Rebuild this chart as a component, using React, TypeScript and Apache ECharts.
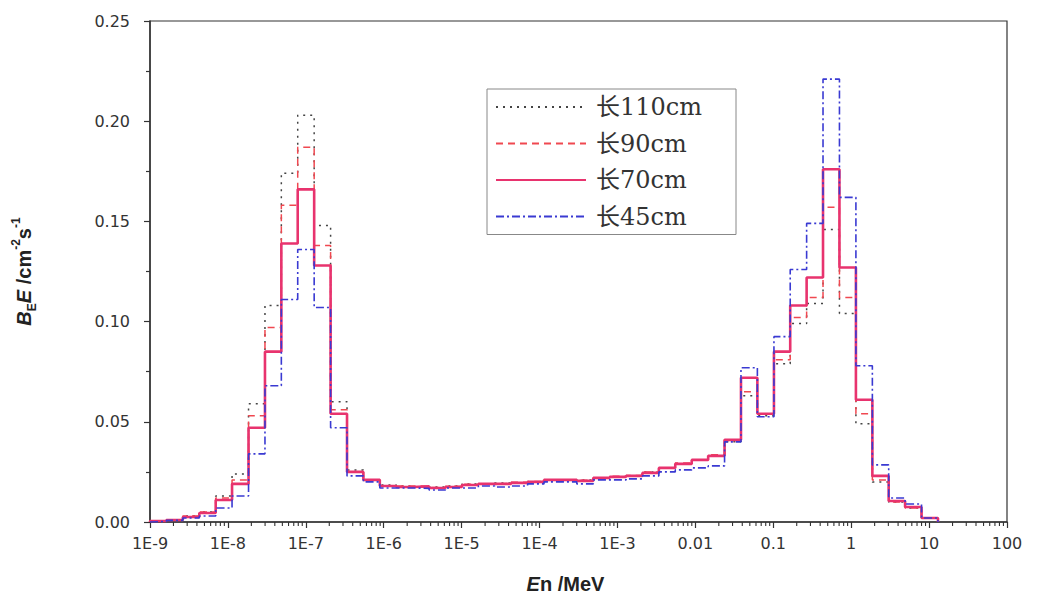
import React, { useEffect, useRef } from "react";
import * as echarts from "echarts";

// Bin edges (MeV), equal logarithmic bins
const binEdges = [
  1.0e-9, 1.62e-9, 2.64e-9, 4.29e-9, 6.97e-9, 1.13e-8, 1.84e-8, 2.99e-8, 4.85e-8, 7.87e-8,
  1.28e-7, 2.08e-7, 3.38e-7, 5.48e-7, 8.91e-7, 1.45e-6, 2.35e-6, 3.82e-6, 6.2e-6, 1.01e-5,
  1.64e-5, 2.66e-5, 4.32e-5, 7.02e-5, 1.14e-4, 1.85e-4, 3.01e-4, 4.89e-4, 7.94e-4, 1.29e-3,
  2.09e-3, 3.4e-3, 5.52e-3, 8.98e-3, 1.46e-2, 2.37e-2, 3.85e-2, 6.25e-2, 0.102, 0.165,
  0.268, 0.435, 0.707, 1.15, 1.87, 3.03, 4.92, 8.0, 13.0,
];

const len110 = [
  0.0005, 0.001, 0.003, 0.005, 0.013, 0.024, 0.059, 0.108, 0.174, 0.203,
  0.148, 0.06, 0.026, 0.021, 0.0185, 0.018, 0.0175, 0.0175, 0.018, 0.019,
  0.019, 0.0195, 0.0195, 0.02, 0.021, 0.021, 0.021, 0.022, 0.0225, 0.023,
  0.025, 0.027, 0.029, 0.031, 0.033, 0.04, 0.063, 0.053, 0.079, 0.099,
  0.109, 0.146, 0.104, 0.049, 0.02, 0.01, 0.007, 0.002,
];
const len90 = [
  0.0005, 0.001, 0.003, 0.005, 0.012, 0.021, 0.053, 0.097, 0.158, 0.187,
  0.138, 0.056, 0.025, 0.021, 0.018, 0.018, 0.0178, 0.0172, 0.0178, 0.0188,
  0.019, 0.0192, 0.0198, 0.0202, 0.021, 0.0208, 0.0208, 0.022, 0.0228, 0.0232,
  0.025, 0.027, 0.0295, 0.031, 0.0335, 0.041, 0.065, 0.054, 0.081, 0.102,
  0.112, 0.157, 0.112, 0.054, 0.021, 0.01, 0.007, 0.002,
];
const len70 = [
  0.0005, 0.001, 0.0025, 0.0045, 0.011, 0.019, 0.047, 0.085, 0.139, 0.166,
  0.128, 0.054, 0.025, 0.021, 0.018, 0.0175, 0.0178, 0.017, 0.0175, 0.0185,
  0.019, 0.019, 0.0195, 0.02, 0.021, 0.021, 0.0205, 0.022, 0.0225, 0.023,
  0.0245, 0.027, 0.029, 0.031, 0.033, 0.041, 0.072, 0.054, 0.085, 0.108,
  0.122, 0.176, 0.127, 0.061, 0.023, 0.0105, 0.0075, 0.002,
];
const len45 = [
  0.0003, 0.0008, 0.002, 0.003, 0.007, 0.013, 0.034, 0.068, 0.111, 0.136,
  0.107, 0.047, 0.023, 0.02, 0.017, 0.017, 0.0168, 0.016, 0.017, 0.017,
  0.018, 0.0175, 0.018, 0.019, 0.02, 0.02, 0.019, 0.021, 0.021, 0.0215,
  0.023, 0.025, 0.026, 0.027, 0.028, 0.04, 0.077, 0.0525, 0.0925, 0.126,
  0.149, 0.221, 0.162, 0.078, 0.0285, 0.012, 0.009, 0.002,
];

const seriesNames = ["长110cm", "长90cm", "长70cm", "长45cm"];
const xTickLabels = ["1E-9", "1E-8", "1E-7", "1E-6", "1E-5", "1E-4", "1E-3", "0.01", "0.1", "1", "10", "100"];
const yTickLabels = ["0.00", "0.05", "0.10", "0.15", "0.20", "0.25"];

function stepPoints(values: number[]) {
  const pts: number[][] = [[binEdges[0], 0]];
  values.forEach((v, i) => pts.push([binEdges[i], v]));
  pts.push([binEdges[values.length], 0]);
  return pts;
}

// log minor tick positions (2..9 in each decade)
const minorTicks: number[][] = [];
for (let e = -9; e < 2; e++) {
  for (let m = 2; m <= 9; m++) minorTicks.push([m * Math.pow(10, e), 0]);
}

export default function App() {
  const ref = useRef<HTMLDivElement>(null);
  useEffect(() => {
    const chart = echarts.init(ref.current!, null, { renderer: "svg" });
    const axisFont = { fontFamily: "DejaVu Sans", fontSize: 16, color: "#333" };
    const styles = [
      { color: "#444444", type: [2, 5], width: 1.5 },
      { color: "#f04850", type: [7, 5], width: 1.5 },
      { color: "#e8336e", type: "solid", width: 2.6 },
      { color: "#3a3ad2", type: [8, 3, 2, 3], width: 1.6 },
    ];
    const dataSets = [len110, len90, len70, len45];
    chart.setOption({
      animation: false,
      backgroundColor: "#ffffff",
      grid: {
        left: 150,
        right: 31,
        top: 21,
        bottom: 77,
        show: true,
        borderColor: "#333",
        borderWidth: 1.2,
      },
      legend: {
        data: seriesNames,
        orient: "vertical",
        left: 487,
        top: 89,
        itemWidth: 90,
        itemHeight: 24,
        itemGap: 12.5,
        padding: [6, 8, 6, 8],
        borderColor: "#888",
        borderWidth: 1,
        backgroundColor: "#fff",
        itemStyle: { opacity: 0 },
        textStyle: {
          fontFamily: "DejaVu Serif, Noto Sans CJK SC",
          fontSize: 24,
          color: "#333",
          lineHeight: 24,
          width: 132,
          padding: [0, 0, 0, 5],
        },
      },
      xAxis: {
        type: "log",
        logBase: 10,
        min: 1e-9,
        max: 100,
        interval: 1,
        axisLine: { show: true, lineStyle: { color: "#333", width: 1.5 } },
        axisTick: { show: true, length: 6, lineStyle: { color: "#333", width: 1.2 } },
        splitLine: { show: false },
        axisLabel: {
          ...axisFont,
          margin: 13,
          formatter: (v: number) => {
            const e = Math.round(Math.log10(v));
            return xTickLabels[e + 9] ?? "";
          },
        },
        name: "{bi|E}{b|n /MeV}",
        nameLocation: "middle",
        nameGap: 52,
        nameTextStyle: {
          padding: [0, 26, 0, 0],
          rich: {
            bi: { fontFamily: "Liberation Sans", fontSize: 20, fontWeight: "bold", fontStyle: "italic", color: "#222" },
            b: { fontFamily: "Liberation Sans", fontSize: 20, fontWeight: "bold", color: "#222" },
          },
        },
      },
      yAxis: {
        type: "value",
        min: 0,
        max: 0.25,
        interval: 0.05,
        axisLine: { show: true, lineStyle: { color: "#333", width: 1.5 } },
        axisTick: { show: true, length: 6, lineStyle: { color: "#333", width: 1.2 } },
        minorTick: { show: true, splitNumber: 2, length: 4, lineStyle: { color: "#333", width: 1.2 } },
        splitLine: { show: false },
        axisLabel: {
          ...axisFont,
          margin: 20,
          formatter: (v: number) => yTickLabels[Math.round(v / 0.05)] ?? "",
        },
        name: "{bi|B}{sub|E}{bi|E}{b| /cm}{sup|-2}{b|s}{sup|-1}",
        nameLocation: "middle",
        nameRotate: 90,
        nameGap: 112,
        nameTextStyle: {
          rich: {
            bi: { fontFamily: "Liberation Sans", fontSize: 20, fontWeight: "bold", fontStyle: "italic", color: "#222", lineHeight: 28, verticalAlign: "middle" },
            b: { fontFamily: "Liberation Sans", fontSize: 20, fontWeight: "bold", color: "#222", lineHeight: 28, verticalAlign: "middle" },
            sub: { fontFamily: "Liberation Sans", fontSize: 12, fontWeight: "bold", color: "#222", lineHeight: 28, verticalAlign: "bottom" },
            sup: { fontFamily: "Liberation Sans", fontSize: 12, fontWeight: "bold", color: "#222", lineHeight: 28, verticalAlign: "top" },
          },
        },
      },
      series: [
        ...seriesNames.map((name, i) => ({
          name,
          type: "line",
          step: "end",
          showSymbol: false,
          symbol: "none",
          data: stepPoints(dataSets[i]),
          lineStyle: styles[i],
          itemStyle: { color: styles[i].color },
          z: 2 + i,
        })),
        {
          name: "minorTicks",
          type: "custom",
          silent: true,
          clip: false,
          data: minorTicks,
          renderItem: (_p: any, api: any) => {
            const pt = api.coord([api.value(0), 0]);
            return {
              type: "line",
              shape: { x1: pt[0], y1: pt[1], x2: pt[0], y2: pt[1] + 4 },
              style: { stroke: "#333", lineWidth: 1.1 },
            };
          },
        },
      ],
    });
    return () => chart.dispose();
  }, []);
  return <div ref={ref} style={{ width: 1038, height: 599, position: "absolute", left: 0, top: 0 }} />;
}
